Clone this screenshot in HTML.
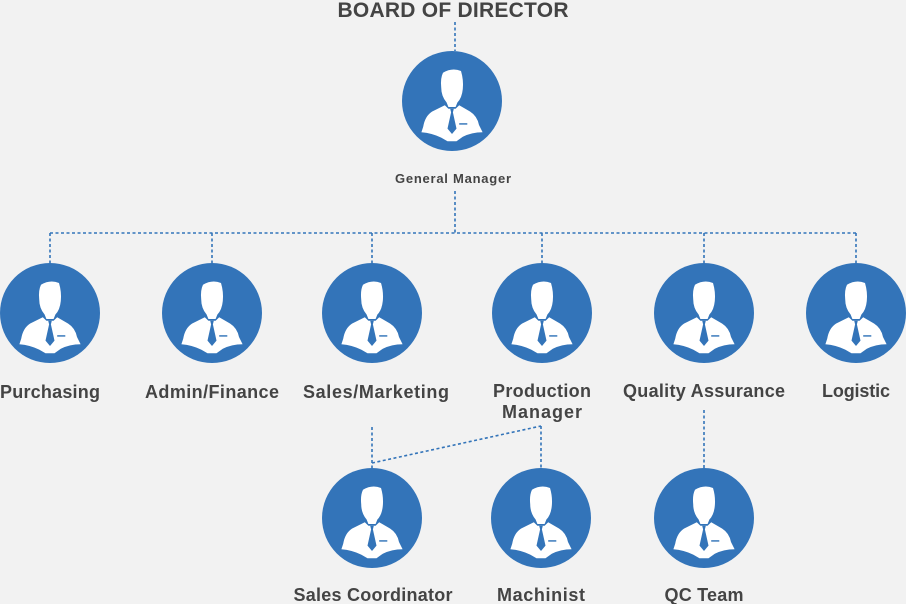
<!DOCTYPE html>
<html><head><meta charset="utf-8"><style>
body{margin:0;background:#f2f2f2;}
svg{display:block}
text{font-family:"Liberation Sans",sans-serif;font-weight:bold;fill:#444;}
</style></head><body>
<svg width="906" height="604" viewBox="0 0 906 604" xmlns="http://www.w3.org/2000/svg">
<defs>
<g id="p">
<circle r="50" fill="#3374b9"/>
<g transform="translate(0,6) scale(0.9)">
<path d="M-10,-38 Q0,-44 10,-40 Q13,-30 12,-20 Q11,-10 6,-5 L4,0 L-4,0 L-6,-5 Q-12,-12 -12,-22 Q-13,-32 -10,-38Z" fill="#fff"/>
<path d="M-8,-2 L-22,5 Q-30,10 -32,22 L-34,28 Q-22,29 -12,34 L-5,38 L5,38 L12,33 Q22,28 34,28 L30,20 Q28,10 20,5 L8,-2 L4,2 L-4,2Z" fill="#fff"/>
<path d="M-2,2 L2,2 L1,6 L5,24 L0,30 L-5,24 L-1,6Z" fill="#3374b9"/>
<rect x="8" y="18" width="9" height="1.6" fill="#3374b9"/>
</g>
</g>
</defs>
<g stroke="#3374b9" stroke-width="1.6" stroke-dasharray="3,2.5" fill="none">
<line x1="455" y1="22" x2="455" y2="51"/>
<line x1="455" y1="191" x2="455" y2="233"/>
<line x1="50" y1="233" x2="856" y2="233"/>
<line x1="50" y1="233" x2="50" y2="263"/>
<line x1="212" y1="233" x2="212" y2="263"/>
<line x1="372" y1="233" x2="372" y2="263"/>
<line x1="542" y1="233" x2="542" y2="263"/>
<line x1="704" y1="233" x2="704" y2="263"/>
<line x1="856" y1="233" x2="856" y2="263"/>
<line x1="372" y1="427" x2="372" y2="468"/>
<line x1="372" y1="463" x2="541" y2="426"/>
<line x1="541" y1="426" x2="541" y2="468"/>
<line x1="704" y1="410" x2="704" y2="468"/>
</g>
<use href="#p" x="452" y="101"/>
<use href="#p" x="50" y="313"/>
<use href="#p" x="212" y="313"/>
<use href="#p" x="372" y="313"/>
<use href="#p" x="542" y="313"/>
<use href="#p" x="704" y="313"/>
<use href="#p" x="856" y="313"/>
<use href="#p" x="372" y="518"/>
<use href="#p" x="541" y="518"/>
<use href="#p" x="704" y="518"/>
<g text-anchor="middle">
<text x="453" y="17" font-size="21" textLength="231">BOARD OF DIRECTOR</text>
<text x="453" y="183" font-size="13" textLength="116">General Manager</text>
<text x="50" y="398" font-size="18" textLength="100">Purchasing</text>
<text x="212" y="398" font-size="18" textLength="134">Admin/Finance</text>
<text x="376" y="398" font-size="18" textLength="146">Sales/Marketing</text>
<text x="542" y="397" font-size="18" textLength="98">Production</text>
<text x="542" y="418" font-size="18" textLength="80">Manager</text>
<text x="704" y="397" font-size="18" textLength="162">Quality Assurance</text>
<text x="856" y="397" font-size="18" textLength="68">Logistic</text>
<text x="373" y="601" font-size="18" textLength="159">Sales Coordinator</text>
<text x="541" y="601" font-size="18" textLength="88">Machinist</text>
<text x="704" y="601" font-size="18" textLength="79">QC Team</text>
</g>
</svg>
</body></html>
